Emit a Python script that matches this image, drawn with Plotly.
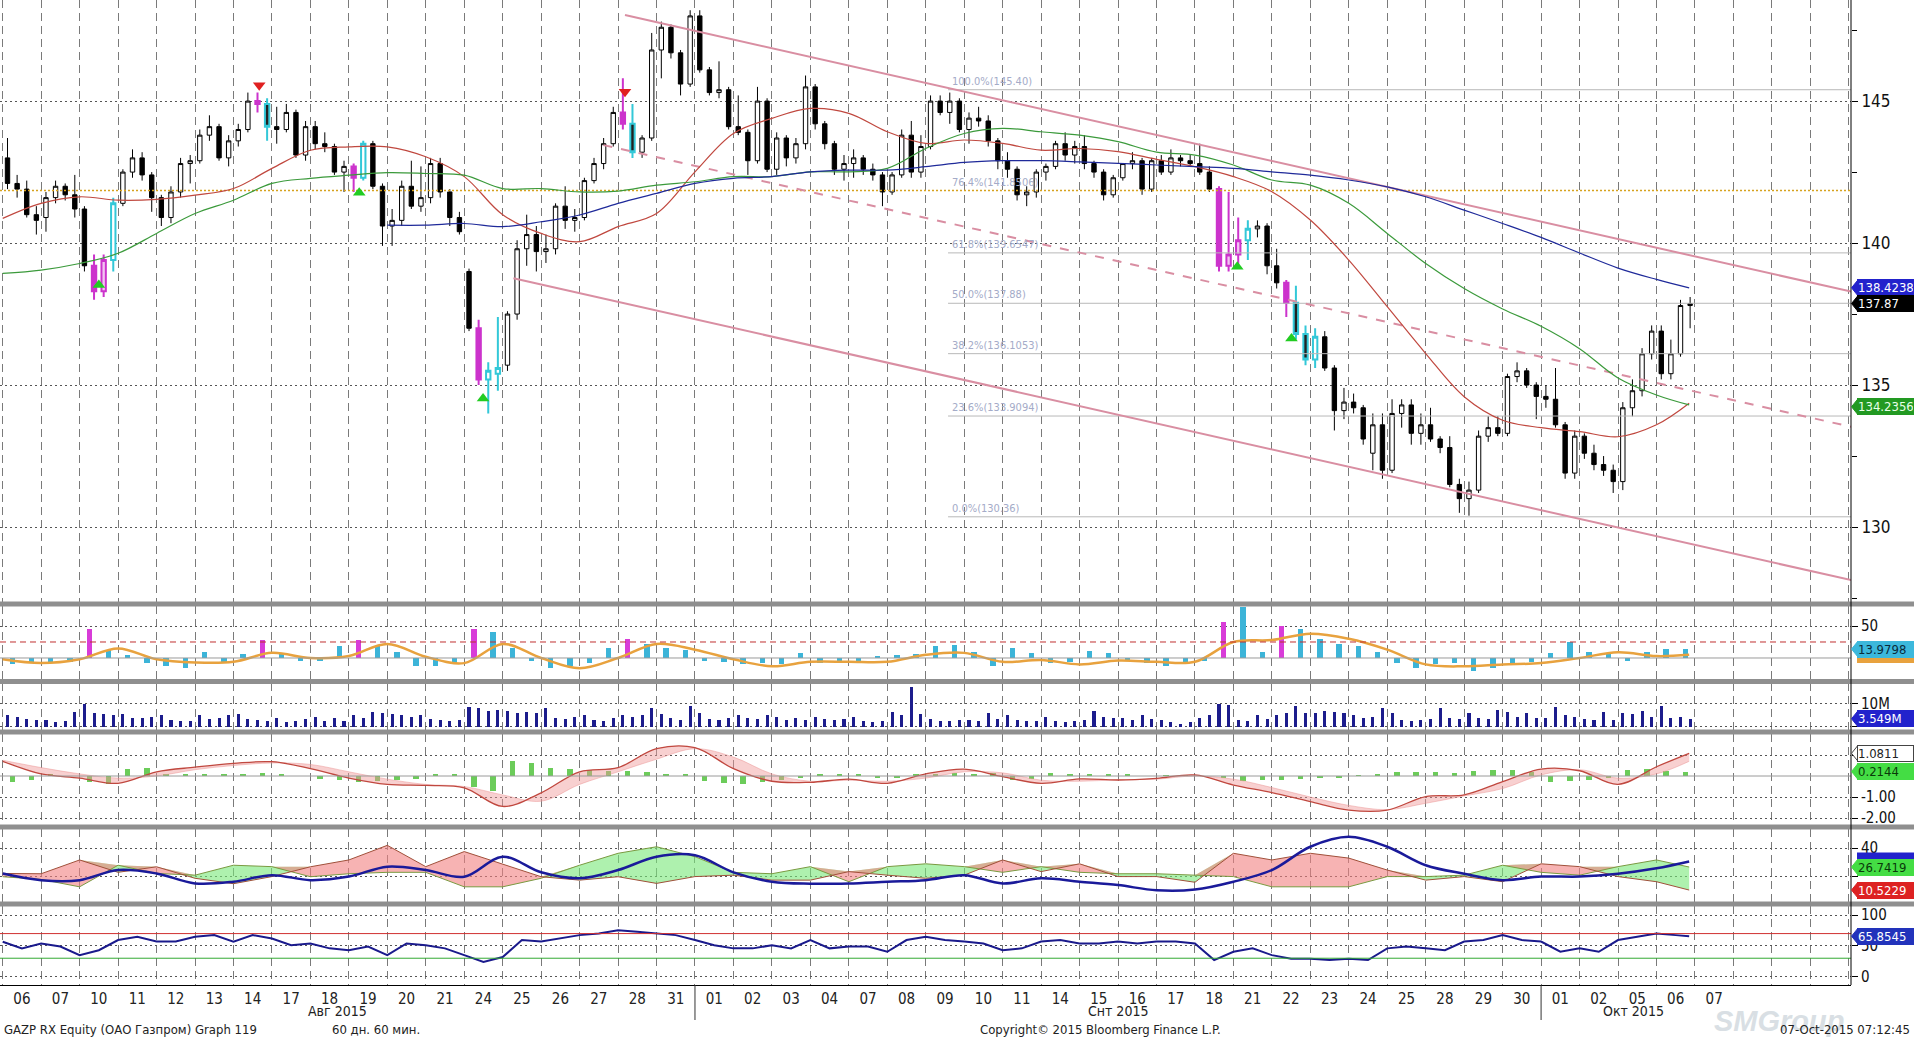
import numpy as np
import plotly.graph_objects as go
from plotly.subplots import make_subplots

# GAZP RX, 60 days of 60-minute bars, 06 Aug - 07 Oct 2015

day_labels = ["06", "07", "10", "11", "12", "13", "14", "17", "18", "19", "20", "21",
              "24", "25", "26", "27", "28", "31",
              "01", "02", "03", "04", "07", "08", "09", "10", "11", "14", "15", "16",
              "17", "18", "21", "22", "23", "24", "25", "28", "29", "30",
              "01", "02", "05", "06", "07"]
month_labels = ["Авг 2015", "Снт 2015", "Окт 2015"]
month_label_pos = [8.7, 29.0, 42.4]
month_breaks = [18, 40]

# price candles, 4 per trading day
opens = [
    [143.0, 142.1, 141.9, 141.0], [140.9, 141.6, 142.0, 141.7], [141.2, 139.2, 138.3, 139.4],
    [141.4, 142.5, 143.0, 142.4], [141.6, 140.9, 141.8, 142.8], [142.9, 143.8, 144.1, 143.0],
    [143.6, 144.0, 145.0, 144.9], [144.1, 144.0, 144.6, 143.1], [144.1, 143.5, 143.4, 142.5],
    [142.7, 142.3, 143.5, 142.0], [140.6, 140.8, 142.0, 141.3], [141.6, 142.8, 141.8, 140.9],
    [139.0, 137.0, 135.2, 135.4], [135.7, 137.5, 139.8, 140.3], [139.7, 139.8, 141.3, 140.8],
    [140.9, 142.2, 142.8, 143.5], [144.6, 144.2, 143.2, 143.7], [146.8, 147.6, 146.7, 145.6],
    [148.0, 146.1, 145.3, 145.4], [144.1, 143.9, 142.9, 145.0], [142.6, 143.7, 143.0, 143.5],
    [145.5, 144.2, 143.5, 142.6], [142.8, 143.0, 142.6, 142.4], [141.8, 142.4, 143.8, 142.5],
    [143.4, 145.0, 144.6, 145.0], [144.0, 144.4, 144.3, 143.6], [142.9, 142.6, 141.7, 141.8],
    [142.5, 142.7, 143.5, 143.1], [143.4, 142.8, 142.5, 141.7], [142.3, 142.8, 142.9, 141.9],
    [142.9, 142.5, 143.0, 142.9], [142.8, 142.5, 141.9, 139.2], [139.6, 140.1, 140.5, 140.6],
    [139.2, 138.6, 137.9, 136.8], [135.9, 136.7, 135.6, 134.1], [134.4, 134.2, 132.6, 133.6],
    [132.0, 134.0, 134.3, 133.3], [133.6, 133.1, 132.8, 131.5], [131.0, 131.3, 133.2, 133.5],
    [133.3, 135.3, 135.5, 135.0], [134.6, 134.5, 133.6, 131.9], [133.2, 132.6, 132.2, 132.0],
    [131.6, 134.2, 134.8, 136.1], [136.9, 135.4, 136.1, 137.8],
]
highs = [
    [143.7, 142.4, 142.2, 141.3], [141.8, 142.2, 142.1, 142.4], [141.3, 139.6, 139.6, 141.6],
    [142.6, 143.3, 143.2, 142.5], [141.7, 142.0, 143.0, 143.1], [144.0, 144.5, 144.2, 143.8],
    [144.2, 145.3, 145.3, 145.1], [144.8, 144.9, 144.7, 144.3], [144.3, 143.9, 143.5, 142.9],
    [142.8, 143.6, 143.6, 142.1], [141.2, 142.2, 142.9, 142.7], [143.0, 143.0, 141.9, 141.1],
    [139.1, 137.3, 135.8, 137.4], [137.6, 140.1, 141.0, 140.6], [140.3, 141.4, 142.0, 141.2],
    [142.3, 143.0, 143.7, 144.8], [145.8, 144.9, 143.8, 147.4], [147.8, 147.7, 146.8, 148.2],
    [148.2, 146.2, 146.4, 145.5], [145.2, 144.0, 145.5, 145.1], [143.9, 143.8, 143.7, 145.9],
    [145.6, 144.3, 143.6, 143.1], [143.3, 143.1, 142.8, 142.5], [142.5, 144.0, 144.3, 143.8],
    [145.2, 145.2, 145.3, 145.1], [144.6, 144.8, 144.5, 143.7], [143.2, 142.7, 142.0, 142.6],
    [142.8, 143.6, 143.9, 143.6], [143.8, 142.9, 142.6, 142.4], [142.8, 143.2, 143.0, 143.0],
    [143.1, 143.3, 143.1, 143.1], [143.5, 142.7, 142.0, 141.8], [140.9, 140.8, 140.8, 140.7],
    [139.8, 138.7, 138.5, 137.1], [137.0, 136.9, 135.7, 134.9], [134.7, 134.3, 134.0, 134.0],
    [134.5, 134.5, 134.5, 134.0], [134.2, 133.2, 133.2, 131.7], [131.6, 133.4, 133.9, 133.9],
    [135.4, 135.8, 135.6, 135.1], [135.0, 135.6, 133.7, 133.4], [133.3, 132.9, 132.5, 132.2],
    [134.4, 135.2, 136.3, 137.1], [137.1, 136.6, 138.0, 138.1],
]
lows = [
    [141.9, 141.6, 140.9, 140.3], [140.4, 141.4, 141.5, 140.9], [139.0, 138.0, 138.1, 139.0],
    [141.3, 142.3, 142.2, 141.1], [140.6, 140.7, 141.6, 142.1], [142.8, 143.6, 142.9, 142.7],
    [143.4, 143.9, 144.6, 143.6], [143.5, 143.9, 143.0, 142.9], [143.3, 143.2, 142.4, 141.8],
    [141.8, 142.2, 141.9, 139.9], [139.9, 140.6, 141.2, 141.1], [141.4, 141.6, 140.6, 140.3],
    [136.9, 135.0, 134.0, 134.8], [135.5, 137.3, 139.2, 139.0], [139.3, 139.6, 140.5, 140.4],
    [140.8, 142.1, 142.6, 143.4], [144.0, 143.0, 143.0, 143.6], [145.8, 146.5, 145.2, 145.5],
    [146.0, 145.2, 145.1, 144.0], [143.8, 142.4, 142.8, 142.5], [142.4, 142.7, 142.8, 143.3],
    [144.0, 143.3, 142.4, 142.2], [142.3, 142.4, 142.2, 141.3], [141.7, 142.3, 142.3, 142.3],
    [143.3, 144.5, 144.2, 143.9], [143.5, 144.1, 143.4, 142.6], [142.3, 141.5, 141.3, 141.6],
    [142.2, 142.6, 142.9, 142.8], [142.6, 142.3, 141.5, 141.6], [142.2, 142.6, 141.7, 141.8],
    [142.4, 142.4, 142.7, 142.7], [142.4, 141.8, 139.0, 139.0], [139.2, 139.4, 140.2, 138.9],
    [138.4, 137.4, 136.6, 135.7], [135.6, 135.5, 133.4, 133.8], [134.0, 132.9, 132.0, 131.7],
    [131.9, 133.5, 132.9, 132.9], [133.0, 132.6, 131.4, 130.5], [130.4, 131.2, 133.0, 133.2],
    [133.2, 135.1, 134.9, 133.8], [134.2, 133.5, 131.7, 131.7], [132.4, 132.0, 131.8, 131.2],
    [131.3, 133.9, 134.6, 135.9], [135.2, 135.2, 136.0, 137.0],
]
closes = [
    [142.1, 141.9, 141.0, 140.8], [141.6, 142.0, 141.7, 141.2], [139.2, 138.3, 139.4, 141.4],
    [142.5, 143.0, 142.4, 141.6], [140.9, 141.8, 142.8, 142.9], [143.8, 144.1, 143.0, 143.6],
    [144.0, 145.0, 144.9, 144.1], [144.0, 144.6, 143.1, 144.1], [143.5, 143.4, 142.5, 142.7],
    [142.3, 143.5, 142.0, 140.6], [140.8, 142.0, 141.3, 141.6], [142.8, 141.8, 140.9, 140.4],
    [137.0, 135.2, 135.5, 135.6], [137.5, 139.8, 140.3, 139.7], [139.8, 141.3, 140.8, 140.9],
    [142.2, 142.8, 143.5, 144.6], [144.2, 143.2, 143.7, 146.8], [147.6, 146.7, 145.6, 148.0],
    [146.1, 145.3, 145.4, 144.1], [143.9, 142.9, 145.0, 142.6], [143.7, 143.0, 143.5, 145.5],
    [144.2, 143.5, 142.6, 142.8], [143.0, 142.6, 142.4, 141.8], [142.4, 143.8, 142.5, 143.4],
    [145.0, 144.6, 145.0, 144.0], [144.4, 144.3, 143.6, 142.9], [142.6, 141.7, 141.8, 142.5],
    [142.7, 143.5, 143.1, 143.4], [142.8, 142.5, 141.7, 142.3], [142.8, 142.9, 141.9, 142.9],
    [142.5, 143.0, 142.9, 142.8], [142.5, 141.9, 139.2, 139.6], [140.1, 140.5, 140.6, 139.2],
    [138.6, 137.9, 136.8, 135.9], [136.7, 135.6, 134.1, 134.4], [134.2, 133.1, 133.6, 132.0],
    [134.0, 134.3, 133.3, 133.6], [133.1, 132.8, 131.5, 131.0], [131.3, 133.2, 133.5, 133.3],
    [135.3, 135.5, 135.0, 134.6], [134.5, 133.6, 131.9, 133.2], [132.6, 132.2, 132.0, 131.6],
    [134.2, 134.8, 136.1, 136.9], [135.4, 136.1, 137.8, 137.87],
]
# n = normal, m = magenta signal bar, c = cyan signal bar
candle_flags = ["nnnn", "nnnn", "nmmc", "nnnn", "nnnn", "nnnn", "nnmc", "nnnn", "nnnn", "mcnn",
                "nnnn", "nnnn", "nmcc", "nnnn", "nnnn", "nnnn", "mcnn", "nnnn", "nnnn", "nnnn",
                "nnnn", "nnnn", "nnnn", "nnnn", "nnnn", "nnnn", "nnnn", "nnnn", "nnnn", "nnnn",
                "nnnn", "nnmm", "mcnn", "nmcc", "cnnn", "nnnn", "nnnn", "nnnn", "nnnn", "nnnn",
                "nnnn", "nnnn", "nnnn", "nnnn"]

# moving averages, value at the start of each day + last bar
ma_red = [140.87, 141.40, 141.63, 141.51, 141.54, 141.69, 141.92, 142.63, 143.27, 143.39,
          143.39, 143.04, 142.34, 141.00, 140.34, 140.05, 140.58, 141.04, 142.51, 143.86,
          144.39, 144.74, 144.57, 143.92, 143.51, 143.63, 143.51, 143.27, 143.33, 143.22,
          142.95, 142.69, 142.34, 141.81, 140.81, 139.40, 137.76, 136.11, 134.59, 133.76,
          133.50, 133.36, 133.18, 133.60, 134.36]
ma_green = [138.93, 139.05, 139.28, 139.64, 140.34, 141.04, 141.51, 142.10, 142.28, 142.39,
            142.48, 142.45, 142.39, 141.92, 141.92, 141.80, 141.83, 142.04, 142.16, 142.34,
            142.34, 142.51, 142.51, 142.63, 143.33, 143.86, 144.04, 143.92, 143.80, 143.57,
            143.20, 143.10, 142.75, 142.22, 142.04, 141.40, 140.34, 139.28, 138.40, 137.68,
            137.07, 136.28, 135.25, 134.65, 134.30]
ma_blue_start = 10
ma_blue = [140.63, 140.63, 140.69, 140.58, 140.75, 140.99, 141.40, 141.75, 142.10, 142.28,
           142.34, 142.51, 142.57, 142.57, 142.69, 142.84, 142.90, 142.90, 142.86, 142.81,
           142.75, 142.69, 142.63, 142.51, 142.39, 142.22, 141.98, 141.63, 141.16, 140.69,
           140.20, 139.65, 139.12, 138.72, 138.42]

# drawn trend channel (day, price) end points
channel_x = [[16.18, 48.06], [13.28, 48.06], [15.62, 48.06]]
channel_y = [[148.03, 138.29], [138.76, 128.13], [143.45, 133.53]]

# Fibonacci retracement 145.40 -> 130.36
fib_start = 24.58
fib_levels = [145.40, 139.6547, 137.88, 136.1053, 133.9094, 130.36]
fib_texts = ["100.0%(145.40)", "61.8%(139.6547)", "50.0%(137.88)", "38.2%(136.1053)",
             "23.6%(133.9094)", "0.0%(130.36)"]
fib_764 = 141.8506
fib_764_text = "76.4%(141.8506)"

sig_down_x = [6.67, 16.18]
sig_down_y = [145.56, 145.33]
sig_up_x = [2.5, 9.27, 12.49, 32.1, 33.51]
sig_up_y = [138.52, 141.77, 134.53, 139.17, 136.64]

# oscillator panel: histogram, 2 per day, and smoothed line per day
osc_hist = [[-10, -8], [-8, -6], [45, 12], [5, -8], [-12, -16], [10, -8], [6, 28], [6, -4],
            [-5, 18], [28, 18], [10, -12], [-12, -10], [45, 40], [15, -5], [-15, -12], [-8, 15],
            [30, 22], [16, 12], [-5, -6], [-10, -8], [-10, 8], [-8, -6], [-4, 3], [5, 6],
            [18, 20], [10, -13], [16, 8], [-8, -6], [11, 8], [-5, -8], [-12, -10], [-5, 56],
            [80, 10], [50, 45], [30, 22], [18, 10], [-8, -15], [-10, -8], [-20, -15], [-10, -6],
            [8, 25], [10, 8], [-5, 10], [14, 14]]
osc_flags = ["nn", "nn", "mn", "nn", "nn", "nn", "nm", "nn", "nn", "mn", "nn", "nn", "mn", "nn",
             "nn", "nn", "mn", "nn", "nn", "nn", "nn", "nn", "nn", "nn", "nn", "nn", "nn", "nn",
             "nn", "nn", "nn", "nm", "nn", "mn", "nn", "nn", "nn", "nn", "nn", "nn", "nn", "nn",
             "nn", "nn"]
osc_line = [-2, -8, -2, 15, -2, -7, -6, 8, 0, 3, 22, 2, -8, 22, 0, -16, 0, 22, 13, -2,
            -13, -6, -6, -6, 5, 8, -6, -3, -10, -4, -6, -6, 25, 28, 38, 30, 13, -10, -13, -10,
            -8, 0, 9, 3, 5]

# volume, millions, 4 per day
volume = [[5.0, 4.5, 3.5, 3.0], [3.0, 2.0, 2.5, 6.5], [10.0, 6.0, 5.5, 5.0], [5.5, 4.0, 4.0, 4.5],
          [5.0, 3.0, 2.5, 2.5], [5.0, 3.5, 4.0, 5.0], [5.5, 3.5, 3.0, 2.5], [4.0, 2.0, 2.5, 3.5],
          [4.5, 2.5, 4.0, 2.5], [5.0, 4.0, 6.5, 6.0], [5.5, 5.0, 4.5, 5.0], [3.5, 3.0, 2.5, 3.0],
          [8.5, 8.0, 7.0, 7.5], [7.0, 6.0, 6.5, 6.0], [8.0, 4.0, 3.5, 4.5], [5.0, 3.0, 2.5, 4.0],
          [5.0, 4.5, 5.0, 8.0], [5.5, 4.0, 3.0, 9.0], [6.0, 3.5, 3.0, 4.0], [5.0, 4.0, 3.5, 5.0],
          [4.5, 3.0, 4.0, 3.0], [4.5, 3.5, 3.0, 3.5], [4.5, 2.5, 2.0, 2.5], [6.5, 5.0, 17.0, 5.5],
          [3.5, 2.5, 2.5, 3.0], [3.0, 2.5, 6.0, 3.5], [5.0, 3.0, 2.5, 2.5], [4.5, 2.5, 2.0, 2.5],
          [3.0, 7.0, 4.5, 4.0], [4.0, 3.0, 5.0, 3.5], [3.0, 2.0, 1.5, 2.0], [4.0, 5.0, 10.0, 9.5],
          [3.0, 2.5, 5.0, 3.5], [5.0, 6.0, 9.0, 6.0], [6.0, 7.0, 6.5, 6.0], [5.0, 4.0, 4.5, 8.0],
          [6.0, 3.0, 2.5, 3.0], [3.5, 8.0, 4.0, 3.5], [6.0, 4.0, 3.5, 7.5], [6.5, 4.5, 6.0, 4.0],
          [4.0, 8.5, 5.0, 4.5], [3.5, 3.0, 6.5, 3.0], [6.0, 5.5, 7.0, 4.5], [9.0, 4.0, 4.5, 3.549]]

# MACD panel
macd = [0.70, 0.10, -0.10, -0.35, 0.20, 0.42, 0.60, 0.68, 0.35, -0.10,
        -0.40, -0.45, -0.56, -1.45, -0.80, 0.20, 0.40, 1.30, 1.35, 0.35,
        -0.25, -0.30, -0.15, -0.35, 0.10, 0.33, -0.03, -0.35, -0.14, -0.19,
        -0.11, 0.05, -0.43, -0.79, -1.22, -1.62, -1.62, -0.98, -0.90, -0.27,
        0.33, 0.25, -0.40, 0.44, 1.08]
macd_signal = [0.75, 0.40, 0.10, -0.10, 0.00, 0.30, 0.50, 0.62, 0.55, 0.20,
               -0.15, -0.40, -0.50, -0.90, -1.20, -0.40, 0.20, 0.80, 1.30, 0.90,
               0.10, -0.25, -0.20, -0.25, -0.10, 0.20, 0.15, -0.20, -0.25, -0.18,
               -0.15, 0.00, -0.15, -0.55, -1.00, -1.40, -1.60, -1.30, -0.95, -0.60,
               0.05, 0.30, -0.10, 0.10, 0.70]
macd_hist = [[-0.30, -0.20], [0.05, 0.00], [-0.30, -0.40], [0.35, 0.40], [0.10, 0.05],
             [0.10, 0.05], [0.10, 0.15], [0.05, 0.00], [-0.15, -0.20], [-0.30, -0.25],
             [-0.20, -0.15], [0.05, 0.05], [-0.50, -0.70], [0.70, 0.60], [0.40, 0.35],
             [0.30, 0.25], [0.25, 0.20], [0.10, 0.05], [-0.25, -0.35], [-0.40, -0.30],
             [-0.20, -0.10], [0.05, 0.05], [0.05, -0.05], [-0.10, 0.05], [0.10, 0.15],
             [0.10, 0.15], [-0.20, -0.15], [0.15, 0.10], [0.05, 0.05], [0.05, 0.00],
             [0.02, 0.02], [0.00, -0.10], [-0.25, -0.20], [-0.20, -0.15], [-0.10, -0.05],
             [0.02, 0.05], [0.20, 0.20], [0.20, 0.15], [0.25, 0.30], [0.30, 0.20],
             [-0.30, -0.25], [-0.20, -0.10], [0.30, 0.35], [0.25, 0.21]]

# DMI panel
plus_di = [19.9, 18.0, 12.8, 28.0, 22.2, 21.0, 28.0, 27.0, 19.9, 22.0,
           23.0, 23.0, 12.8, 12.8, 18.8, 28.0, 36.4, 41.0, 34.0, 23.0,
           22.0, 27.0, 16.4, 27.0, 29.0, 27.0, 23.0, 27.0, 23.0, 22.0,
           22.0, 21.0, 20.0, 12.8, 12.8, 12.8, 20.0, 20.0, 21.0, 28.0,
           23.0, 21.0, 27.0, 31.7, 26.74]
minus_di = [22.2, 22.0, 31.7, 23.0, 26.9, 18.8, 15.0, 20.0, 26.9, 31.7,
            42.0, 27.0, 37.6, 29.0, 19.9, 17.5, 19.9, 15.2, 20.0, 21.0,
            17.5, 17.5, 23.5, 21.0, 18.8, 21.0, 31.7, 23.5, 29.0, 20.0,
            20.0, 16.0, 36.4, 31.7, 36.4, 33.0, 24.6, 17.5, 20.0, 16.4,
            29.0, 27.0, 20.0, 16.4, 10.52]
adx = [22.2, 17.5, 17.5, 24.6, 22.2, 15.2, 16.4, 21.0, 17.5, 20.0,
       27.0, 24.6, 19.9, 34.0, 23.0, 18.8, 24.6, 34.0, 35.0, 23.0,
       16.4, 15.0, 15.2, 16.4, 17.5, 21.0, 15.2, 18.8, 16.4, 14.0,
       10.4, 10.9, 16.4, 24.6, 41.0, 48.0, 41.0, 28.0, 22.0, 17.5,
       20.0, 20.0, 22.0, 25.8, 30.6]

# RSI, 2 readings per day + last bar
rsi = [56.8, 46, 54, 49, 35, 43, 59.5, 65, 57, 57, 65, 67.5, 57, 67.5, 62, 51, 54, 46, 43, 49,
       35, 54, 51, 46, 35, 24, 32, 59.5, 57, 62, 67.5, 70, 75.5, 73, 70, 67.5, 59.5, 51, 46, 46,
       51, 46, 59.5, 46, 49, 49, 40.5, 59.5, 65, 59.5, 57, 54, 43, 46, 57, 59.5, 54, 54, 57, 54,
       57, 57, 54, 27, 40.5, 46, 35, 29, 29, 27, 29, 27, 46, 49, 46, 43, 57, 59.5, 67.5, 59.5,
       57, 40.5, 46, 40.5, 59.5, 65, 70, 67.5, 65.85]

# ---------------------------------------------------------------------------
FONT = "Liberation Sans Narrow, DejaVu Sans Condensed, Arial Narrow, Liberation Sans, sans-serif"
W, H = 1914, 1037
PLOT_H = 985
X_MIN, X_MAX = -0.0702, 48.058
X_DOM = 1851 / W
n_days = len(opens)
last_x = 43.85

o = np.array(opens).ravel()
h = np.array(highs).ravel()
l = np.array(lows).ravel()
c = np.array(closes).ravel()
flags = np.array(list("".join(candle_flags)))
x_bar4 = np.array([d + (j + 0.5) / 4 for d in range(n_days) for j in range(4)])
x_bar2 = np.array([d + (j + 0.5) / 2 for d in range(n_days) for j in range(2)])
x_edge = np.r_[np.arange(n_days), last_x]
x_rsi = np.r_[np.arange(0, n_days, 0.5), last_x]

fig = make_subplots(rows=6, cols=1, shared_xaxes=True, vertical_spacing=0.01)

# --- price panel ---
styles = {"n": ("black", "white", "black", 1),
          "m": ("#cc33cc", "#f2c4f2", "#cc33cc", 2),
          "c": ("#33c8d8", "white", "#222222", 2)}
for key, (lc, inc_fill, dec_fill, lw) in styles.items():
    m = flags == key
    fig.add_trace(go.Candlestick(
        x=x_bar4[m], open=o[m], high=h[m], low=l[m], close=c[m], whiskerwidth=0,
        increasing=dict(line=dict(color=lc, width=lw), fillcolor=inc_fill),
        decreasing=dict(line=dict(color=lc, width=lw), fillcolor=dec_fill),
        hoverinfo="skip", showlegend=False), row=1, col=1)

fig.add_trace(go.Scatter(x=[X_MIN, X_MAX], y=[fib_764, fib_764], mode="lines",
                         line=dict(color="#d6a21e", width=1.5, dash="2px,2px"),
                         hoverinfo="skip"), row=1, col=1)
for lev in fib_levels:
    fig.add_trace(go.Scatter(x=[fib_start, X_MAX], y=[lev, lev], mode="lines",
                             line=dict(color="#b8b8b8", width=1), hoverinfo="skip"), row=1, col=1)
for i, (cx, cy) in enumerate(zip(channel_x, channel_y)):
    fig.add_trace(go.Scatter(x=cx, y=cy, mode="lines",
                             line=dict(color="#d98ea2", width=2, dash="dash" if i == 2 else "solid"),
                             hoverinfo="skip"), row=1, col=1)
fig.add_trace(go.Scatter(x=x_edge, y=ma_red, mode="lines", line=dict(color="#c0483f", width=1.2, shape="spline"),
                         hoverinfo="skip"), row=1, col=1)
fig.add_trace(go.Scatter(x=x_edge, y=ma_green, mode="lines", line=dict(color="#3b9a3b", width=1.2, shape="spline"),
                         hoverinfo="skip"), row=1, col=1)
fig.add_trace(go.Scatter(x=x_edge[ma_blue_start:], y=ma_blue, mode="lines",
                         line=dict(color="#1f2a9a", width=1.2, shape="spline"), hoverinfo="skip"), row=1, col=1)
fig.add_trace(go.Scatter(x=sig_down_x, y=sig_down_y, mode="markers",
                         marker=dict(symbol="triangle-down", size=11, color="#e02020"), hoverinfo="skip"), row=1, col=1)
fig.add_trace(go.Scatter(x=sig_up_x, y=sig_up_y, mode="markers",
                         marker=dict(symbol="triangle-up", size=11, color="#22cc22"), hoverinfo="skip"), row=1, col=1)

# --- oscillator panel ---
osc_vals = np.array(osc_hist).ravel()
osc_cols = ["#d83cd8" if f == "m" else "#3cb4d8" for f in "".join(osc_flags)]
fig.add_trace(go.Bar(x=x_bar2, y=osc_vals, width=0.14, marker=dict(color=osc_cols, line=dict(width=0)),
                     hoverinfo="skip"), row=2, col=1)
fig.add_trace(go.Scatter(x=x_edge, y=osc_line, mode="lines",
                         line=dict(color="#e8a23e", width=2.5, shape="spline"), hoverinfo="skip"), row=2, col=1)

# --- volume panel ---
fig.add_trace(go.Bar(x=x_bar4, y=np.array(volume).ravel(), width=0.08,
                     marker=dict(color="#1c1c8c", line=dict(width=0)), hoverinfo="skip"), row=3, col=1)

# --- MACD panel ---
fig.add_trace(go.Bar(x=x_bar2, y=np.array(macd_hist).ravel(), width=0.14,
                     marker=dict(color="#6ccc5a", line=dict(width=0)), hoverinfo="skip"), row=4, col=1)
fig.add_trace(go.Scatter(x=x_edge, y=macd_signal, mode="lines",
                         line=dict(color="rgba(235,150,150,0.5)", width=1, shape="spline"),
                         hoverinfo="skip"), row=4, col=1)
fig.add_trace(go.Scatter(x=x_edge, y=macd, mode="lines", fill="tonexty", fillcolor="rgba(240,150,150,0.45)",
                         line=dict(color="#c0483f", width=1.3, shape="spline"), hoverinfo="skip"), row=4, col=1)

# --- DMI panel ---
pdi = np.array(plus_di)
mdi = np.array(minus_di)
top = np.maximum(pdi, mdi)
fig.add_trace(go.Scatter(x=x_edge, y=mdi, mode="lines", line=dict(width=0), hoverinfo="skip"), row=5, col=1)
fig.add_trace(go.Scatter(x=x_edge, y=top, mode="lines", line=dict(width=0), fill="tonexty",
                         fillcolor="rgba(120,232,120,0.6)", hoverinfo="skip"), row=5, col=1)
fig.add_trace(go.Scatter(x=x_edge, y=pdi, mode="lines", line=dict(width=0), hoverinfo="skip"), row=5, col=1)
fig.add_trace(go.Scatter(x=x_edge, y=top, mode="lines", line=dict(width=0), fill="tonexty",
                         fillcolor="rgba(242,128,128,0.6)", hoverinfo="skip"), row=5, col=1)
fig.add_trace(go.Scatter(x=x_edge, y=pdi, mode="lines", line=dict(color="#7a9a40", width=1),
                         hoverinfo="skip"), row=5, col=1)
fig.add_trace(go.Scatter(x=x_edge, y=mdi, mode="lines", line=dict(color="#a0503a", width=1),
                         hoverinfo="skip"), row=5, col=1)
fig.add_trace(go.Scatter(x=x_edge, y=adx, mode="lines", line=dict(color="#1a1a9a", width=2.5, shape="spline"),
                         hoverinfo="skip"), row=5, col=1)

# --- RSI panel ---
fig.add_trace(go.Scatter(x=x_rsi, y=rsi, mode="lines", line=dict(color="#1a1a8c", width=2),
                         hoverinfo="skip"), row=6, col=1)

# reference lines
fig.add_hline(y=0, line=dict(color="#9a9a9a", width=1), row=2, col=1)
fig.add_hline(y=25, line=dict(color="#c03030", width=1, dash="6px,4px"), row=2, col=1)
fig.add_hline(y=0, line=dict(color="#9a9a9a", width=1), row=4, col=1)
fig.add_hline(y=70, line=dict(color="#d03030", width=1), row=6, col=1)
fig.add_hline(y=30, line=dict(color="#33aa33", width=1), row=6, col=1)

# --- axes ---
centers = np.arange(len(day_labels)) + 0.5
edges = np.arange(0, 49)
for r in range(1, 7):
    fig.update_xaxes(row=r, col=1, range=[X_MIN, X_MAX], domain=[0, X_DOM],
                     tickmode="array", tickvals=centers, ticktext=day_labels,
                     showticklabels=(r == 6), showgrid=False, zeroline=False, ticks="",
                     minor=dict(tickmode="array", tickvals=edges, showgrid=True, gridcolor="#7a7a7a",
                                griddash="8px,5px", gridwidth=1, ticks=""),
                     showline=(r == 6), linecolor="black", linewidth=1,
                     rangeslider=dict(visible=False),
                     tickfont=dict(size=15, color="#222", family=FONT))

y_domains = [[0.38883, 1.0], [0.30964, 0.38477], [0.25888, 0.30660],
             [0.16244, 0.25482], [0.08426, 0.15838], [0.0, 0.08020]]
y_ranges = [[127.36, 148.56], [-34.4, 81.25], [-1.29, 18.9], [-2.333, 2.0], [2.11, 53.5], [-13.45, 114.75]]
y_ticks = [[130, 135, 140, 145], [50], [0, 10], [-2, -1, 1], [20, 40], [0, 50, 100]]
y_ticktext = [["130", "135", "140", "145"], ["50"], ["", "10M"], ["-2.00", "-1.00", ""],
              ["", "40"], ["0", "50", "100"]]
for r in range(1, 7):
    yax = dict(domain=y_domains[r - 1], range=y_ranges[r - 1], side="right",
               tickmode="array", tickvals=y_ticks[r - 1], ticktext=y_ticktext[r - 1],
               showgrid=True, gridcolor="#555", griddash="2px,3px", gridwidth=1, zeroline=False,
               ticks="outside", ticklen=6, tickcolor="black", showline=False,
               tickfont=dict(size=17 if r == 1 else 15, color="#111", family=FONT))
    if r == 1:
        yax["minor"] = dict(tickmode="array", tickvals=[127.5, 132.5, 137.5, 142.5, 147.5],
                            ticks="outside", ticklen=5, tickcolor="black", showgrid=False)
    fig.update_layout({("yaxis" if r == 1 else f"yaxis{r}"): yax})


def paper_x(day):
    return (day - X_MIN) / (X_MAX - X_MIN) * X_DOM


def paper_y(px):
    return (PLOT_H - px) / PLOT_H


shapes = []
ann = []
for py in [604, 681.5, 732, 827, 904]:
    shapes.append(dict(type="line", xref="paper", yref="paper", x0=0, x1=1, y0=paper_y(py), y1=paper_y(py),
                       line=dict(color="#8f8f8f", width=5)))
shapes.append(dict(type="line", xref="paper", yref="paper", x0=X_DOM, x1=X_DOM, y0=0, y1=1,
                   line=dict(color="black", width=1)))
for b in month_breaks:
    shapes.append(dict(type="line", xref="paper", yref="paper", x0=paper_x(b), x1=paper_x(b),
                       y0=0, y1=paper_y(1020), line=dict(color="#333", width=1)))
# value boxes whose text is hidden behind neighbouring boxes in the original
shapes.append(dict(type="rect", xref="paper", yref="y2", x0=X_DOM + 6 / W, x1=1, y0=-8, y1=4,
                   fillcolor="#e8a23e", line=dict(width=0)))
shapes.append(dict(type="rect", xref="paper", yref="y5", x0=X_DOM + 6 / W, x1=1, y0=30, y1=37,
                   fillcolor="#2222cc", line=dict(width=0)))


def tag(text, row, y, bg, fg, border=None):
    yref = "y" if row == 1 else f"y{row}"
    dom, rng = y_domains[row - 1], y_ranges[row - 1]
    ppu = (dom[1] - dom[0]) * PLOT_H / (rng[1] - rng[0])
    dy = 8 / ppu
    x_tip, x_base = X_DOM + 0.5 / W, X_DOM + 7 / W
    shapes.append(dict(type="path", xref="paper", yref=yref,
                       path=f"M {x_base},{y + dy} L {x_tip},{y} L {x_base},{y - dy} Z",
                       fillcolor=bg, line=dict(color=border or bg, width=1)))
    ann.append(dict(x=X_DOM, xref="paper", xanchor="left", xshift=6, y=y, yref=yref, yanchor="middle",
                    text=text, showarrow=False, bgcolor=bg, bordercolor=border or bg, borderwidth=1,
                    borderpad=0, width=55, align="left", font=dict(size=13, color=fg, family=FONT)))


# faint watermark first so the footer text sits on top of it
ann.append(dict(x=1712 / W, y=paper_y(1021), xref="paper", yref="paper", xanchor="left", yanchor="middle",
                text="<b><i>SMGroup</i></b>", showarrow=False,
                font=dict(size=29, color="#d9dfe4", family="Liberation Sans, sans-serif")))
for lev, t in zip(fib_levels + [fib_764], fib_texts + [fib_764_text]):
    ann.append(dict(x=fib_start + 0.05, y=lev, xref="x", yref="y", xanchor="left", yanchor="bottom",
                    text=t, showarrow=False, font=dict(size=11, color="#a4abc8", family=FONT)))
for t, pos in zip(month_labels, month_label_pos):
    ann.append(dict(x=pos, y=paper_y(1011), xref="x6", yref="paper", xanchor="center", yanchor="middle",
                    text=t, showarrow=False, font=dict(size=14, color="#222", family=FONT)))

tag("138.4238", 1, 138.4238, "#2222cc", "white")
tag("137.87", 1, 137.87, "#000000", "white")
tag("134.2356", 1, 134.2356, "#229922", "#e8ffe8")
tag("13.9798", 2, 13.9798, "#3cb8dc", "#0a2a3a")
tag("3.549M", 3, 3.549, "#2222cc", "white")
tag("1.0811", 4, 1.0811, "white", "#222", "#444")
tag("0.2144", 4, 0.2144, "#44dd44", "#0a3a0a")
tag("26.7419", 5, 26.7419, "#44dd44", "#0a3a0a")
tag("10.5229", 5, 10.5229, "#dd2222", "white")
tag("65.8545", 6, 65.8545, "#2233bb", "white")

foot = dict(size=13, color="#222", family=FONT)
fy = paper_y(1029)
ann.append(dict(x=2 / W, y=fy, xref="paper", yref="paper", xanchor="left", yanchor="middle",
                text="GAZP RX Equity (ОАО Газпром) Graph 119", showarrow=False, font=foot))
ann.append(dict(x=330 / W, y=fy, xref="paper", yref="paper", xanchor="left", yanchor="middle",
                text="60 дн. 60 мин.", showarrow=False, font=foot))
ann.append(dict(x=978 / W, y=fy, xref="paper", yref="paper", xanchor="left", yanchor="middle",
                text="Copyright© 2015 Bloomberg Finance L.P.", showarrow=False, font=foot))
ann.append(dict(x=1912 / W, y=fy, xref="paper", yref="paper", xanchor="right", yanchor="middle",
                text="07-Oct-2015 07:12:45", showarrow=False, font=foot))

fig.update_layout(shapes=list(fig.layout.shapes) + shapes,
                  annotations=list(fig.layout.annotations) + ann)

fig.update_layout(template="none", width=W, height=H, showlegend=False, boxgap=0.35,
                  margin=dict(l=0, r=0, t=0, b=52), paper_bgcolor="white", plot_bgcolor="white",
                  font=dict(family=FONT, color="#222"), bargap=0)

fig.write_html("out.html", config={"displayModeBar": False},
               post_script="document.body.style.margin='0';document.body.style.overflow='hidden';")
